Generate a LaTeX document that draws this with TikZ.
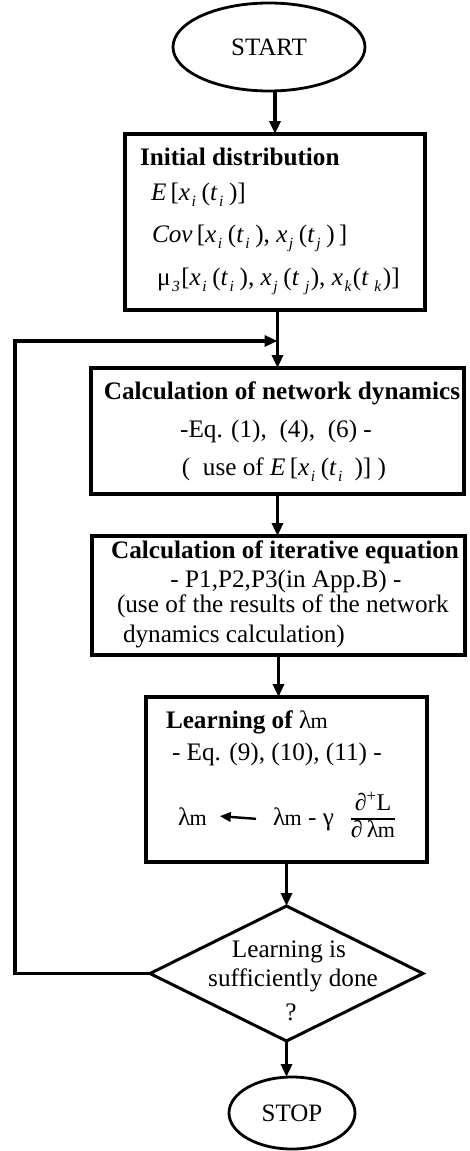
\documentclass[tikz,border=0pt]{standalone}
\usepackage{fontspec}
\setmainfont{Liberation Serif}
\usetikzlibrary{shapes.geometric,arrows.meta}
\newcommand\sub[1]{\kern1.5pt\raisebox{-6pt}{\fontsize{15.5}{15.5}\selectfont\itshape #1}\kern1.5pt}
\newcommand\lmb{λ\kern-0.5pt{\fontsize{22}{22}\selectfont m}}
\newcommand\vx{\textit{x}}
\newcommand\vt{\textit{t}}
\begin{document}
\begin{tikzpicture}[x=1pt,y=-1pt,
  box/.style={draw,rectangle,line width=3.2pt,inner sep=0pt,outer sep=0pt},
  term/.style={draw,ellipse,line width=2.8pt,inner sep=0pt,outer sep=0pt,font=\fontsize{25}{29}\selectfont},
  txt/.style={inner sep=0pt,outer sep=0pt,font=\fontsize{25.2}{29}\selectfont},
  btxt/.style={inner sep=0pt,outer sep=0pt,font=\fontsize{25.2}{29}\selectfont\bfseries},
  flow/.style={line width=3.2pt,-{Triangle[length=13pt,width=11pt]}},
  eqarrow/.style={line width=2.4pt,-{Triangle[length=11pt,width=9.5pt]}}]
\useasboundingbox (0,0) rectangle (469,1151);

% shapes
\node[term,minimum width=192pt,minimum height=88pt] (start) at (269,47) {START\hspace{10pt}};
\node[box,minimum width=300pt,minimum height=176pt] (init) at (275,222) {};
\node[box,minimum width=373pt,minimum height=126pt] (dyn) at (277.5,431) {};
\node[box,minimum width=373pt,minimum height=119pt] (iter) at (278.5,595.5) {};
\node[box,minimum width=281pt,minimum height=165pt] (learn) at (286.5,779.5) {};
\node[draw,diamond,line width=3pt,inner sep=0pt,outer sep=0pt,aspect=2.02,
      minimum width=273pt,minimum height=135pt] (dia) at (286.5,973.5) {};
\node[term,minimum width=126pt,minimum height=72pt] (stop) at (292,1113) {STOP};

% texts: initial distribution
\node[btxt,anchor=base west] (i1) at (140,165) {Initial distribution};
\node[txt,anchor=base west] (i2) at (151,200) {\textit{E}\,[\vx\sub{i}\,(\vt\sub{i}\,)]};
\node[txt,anchor=base west] (i3) at (152,242) {\textit{Cov}\,[\vx\sub{i}\,(\vt\sub{i}\,), \vx\sub{j}\,(\vt\sub{j}\,)\,]};
\node[txt,anchor=base west] (i4) at (157,285) {μ\sub{3}[\vx\sub{i}\,(\vt\sub{i}\,), \vx\sub{j}\,(\vt\,\sub{j}), \vx\sub{k}(\vt\,\sub{k})]};

% network dynamics
\node[btxt,anchor=base] (d1) at (282,399) {Calculation of network dynamics};
\node[txt,anchor=base] (d2) at (276,437) {-Eq. (1),\ \ (4),\ \ (6) -};
\node[txt,anchor=base] (d3) at (284,475) {(\ \ use of \textit{E}\,[\vx\sub{i}\,(\vt\sub{i}\ \,)]\ )};

% iterative equation
\node[btxt,anchor=base] (e1) at (285,558) {Calculation of iterative equation};
\node[txt,anchor=base] (e2) at (286,587) {- P1,P2,P3(in App.B) -};
\node[txt,anchor=base west] (e3) at (117,612) {(use of the results of the network};
\node[txt,anchor=base west] (e4) at (123,642) {dynamics calculation)};

% learning
\node[btxt,anchor=base west] (l1) at (166,728) {Learning of {\mdseries\lmb}};
\node[txt,anchor=base west] (l2) at (172,760) {- Eq. (9), (10), (11) -};
\node[txt,anchor=base west] (lamA) at (178,825) {\lmb};
\node[txt,anchor=base west] (lamB) at (273,825) {\lmb\ - γ};
\node[txt,font=\fontsize{24}{26}\selectfont] (frac) at (373,818)
  {\setlength\arrayrulewidth{1.4pt}\renewcommand\arraystretch{0.9}%
   \begin{tabular}{@{}c@{}}∂\textsuperscript{+}L\\[1pt]\hline ∂\,\lmb\end{tabular}};
\draw[eqarrow] ([xshift=-17pt]lamB.west) -- ([xshift=13pt]lamA.east);

% decision
\node[txt,anchor=base] (q1) at (289,957) {Learning is};
\node[txt,anchor=base] (q2) at (293,986) {sufficiently done};
\node[txt,anchor=base] (q3) at (291,1020) {?};

% connectors
\draw[flow] (start.south -| init.north) -- (init.north);
\draw[flow] (init.south -| dyn.north) -- (dyn.north);
\draw[flow] (dyn.south) -- (dyn.south |- iter.north);
\draw[flow] (iter.south) -- (iter.south |- learn.north);
\draw[flow] (learn.south) -- (dia.north);
\draw[flow] (dia.south) -- (dia.south |- stop.north);
\coordinate (lc) at (15,341);
\draw[flow,line join=miter] (dia.west) -| (lc) -- (lc -| dyn.north);
\end{tikzpicture}
\end{document}
